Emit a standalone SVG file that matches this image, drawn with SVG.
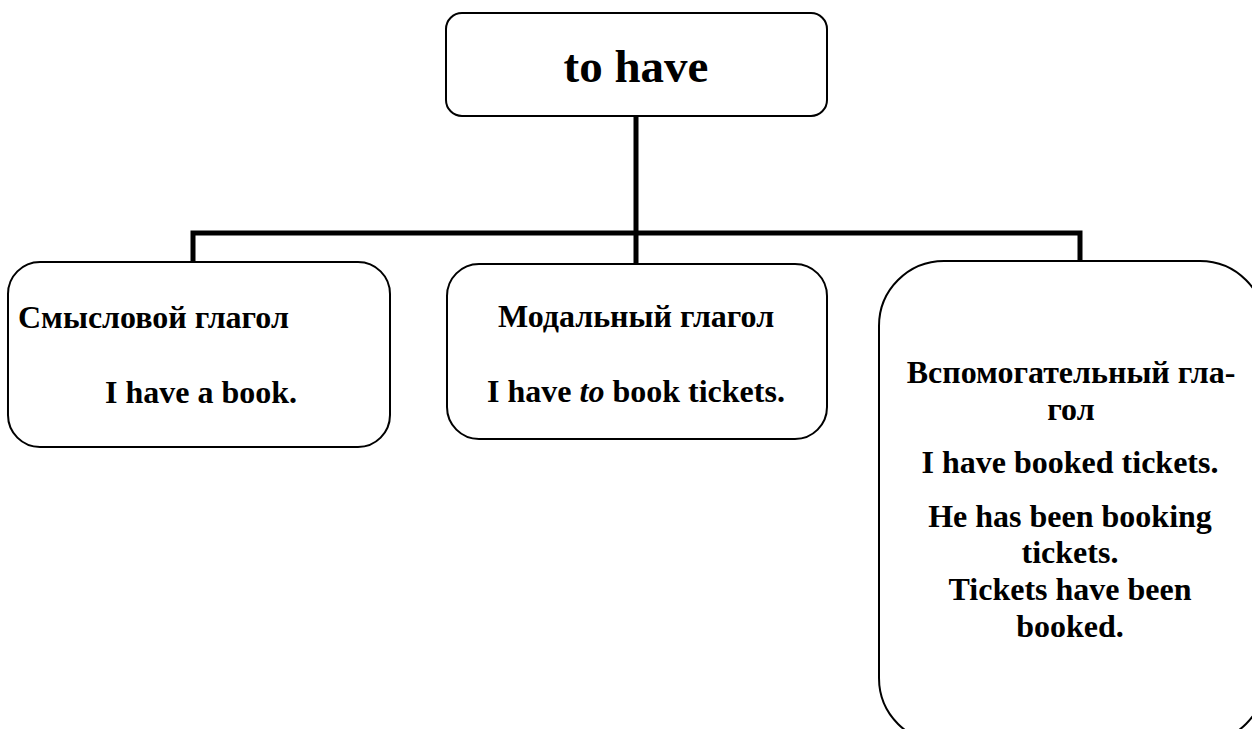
<svg xmlns="http://www.w3.org/2000/svg" width="1252" height="729" viewBox="0 0 1252 729">
<style>
.box{fill:#fff;stroke:#000;stroke-width:2}
.con{fill:none;stroke:#000;stroke-width:5}
text{font-family:"Liberation Serif","Times New Roman",serif;font-weight:bold;fill:#000}
.t{font-size:32px}
.h{font-size:32px}
.c{text-anchor:middle}
</style>
<rect width="1252" height="729" fill="#fff"/>
<g id="connectors">
<path class="con" d="M636 116 V233 M193 262 V233 H1080 V261 M636 233 V264"/>
</g>
<g id="node-top">
<rect class="box" x="446" y="13" width="381" height="103" rx="16"/>
<text x="636" y="82" class="c" font-size="47">to have</text>
</g>
<g id="node-left">
<rect class="box" x="8" y="262" width="382" height="185" rx="32"/>
<text x="18" y="328" class="h">Смысловой глагол</text>
<text x="105" y="403" class="t">I have a book.</text>
</g>
<g id="node-middle">
<rect class="box" x="447" y="264" width="380" height="175" rx="32"/>
<text x="636" y="327" class="h c">Модальный глагол</text>
<text x="636" y="402" class="t c">I have <tspan font-style="italic">to</tspan> book tickets.</text>
</g>
<g id="node-right">
<rect class="box" x="879" y="261" width="386" height="482" rx="65"/>
<text x="1071" y="383" class="h c">Вспомогательный гла-</text>
<text x="1071" y="420" class="h c">гол</text>
<text x="1070" y="473" class="t c">I have booked tickets.</text>
<text x="1070" y="527" class="t c">He has been booking</text>
<text x="1070" y="563" class="t c">tickets.</text>
<text x="1070" y="600" class="t c">Tickets have been</text>
<text x="1070" y="637" class="t c">booked.</text>
</g>
</svg>
